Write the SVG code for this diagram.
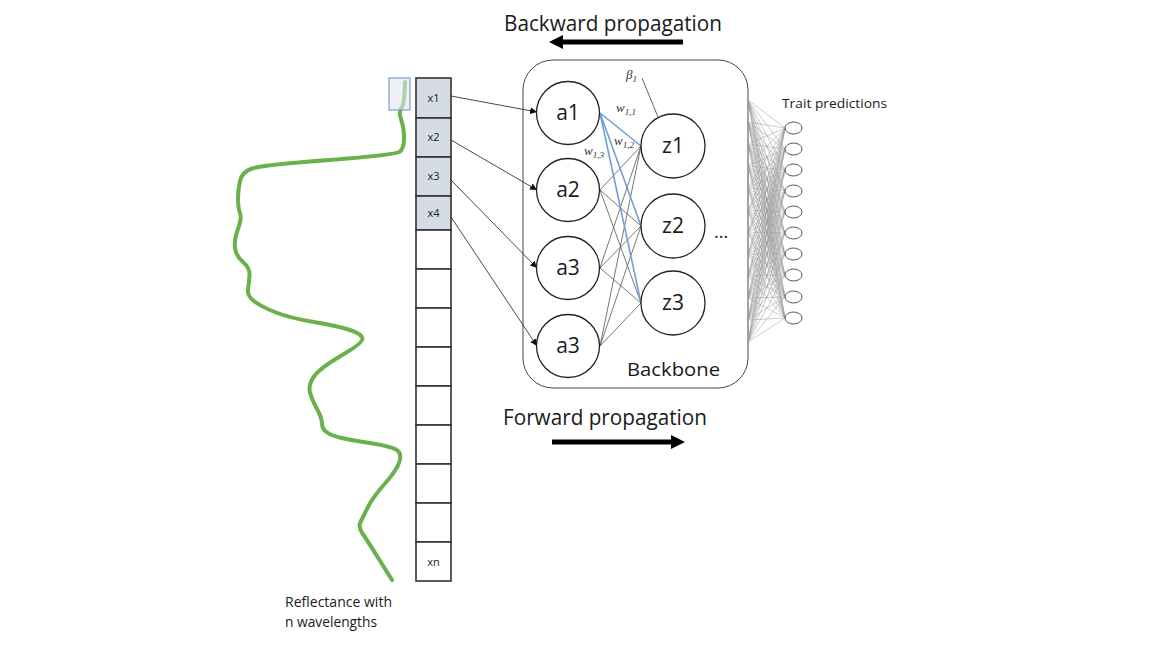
<svg xmlns="http://www.w3.org/2000/svg" width="1152" height="648" viewBox="0 0 1152 648">
<defs>
<style>
.lbl{font-family:"Open Sans","Liberation Sans",sans-serif;fill:#1a1a1a}
.node{fill:#fff;stroke:#222;stroke-width:1.3}
.cell{stroke:#333;stroke-width:1.6}
.in{fill:#d6dce4}
.emp{fill:#fff}
.w{font-family:"Liberation Serif","DejaVu Serif",serif;font-style:italic;font-size:13px;fill:#333}
.g{stroke:#555;stroke-width:0.8;fill:none}
.b{stroke:#6f9fd8;stroke-width:1.6;fill:none}
.mesh{stroke:#9a9a9a;stroke-width:0.5;fill:none}
.out{fill:#fff;stroke:#555;stroke-width:1}
</style>
<marker id="ah" viewBox="0 0 10 10" refX="10" refY="5" markerWidth="7" markerHeight="7" orient="auto" markerUnits="userSpaceOnUse">
<path d="M0,0 L10,5 L0,10 z" fill="#111"/>
</marker>
</defs>
<rect width="1152" height="648" fill="#fff"/>

<g id="titles">
<text class="lbl" x="504" y="31" font-size="22" textLength="218" lengthAdjust="spacingAndGlyphs">Backward propagation</text>
<line x1="683" y1="42" x2="560" y2="42" stroke="#000" stroke-width="5"/>
<polygon points="549,42 563,35 563,49" fill="#000"/>
<text class="lbl" x="503" y="425" font-size="22" textLength="204" lengthAdjust="spacingAndGlyphs">Forward propagation</text>
<line x1="552" y1="442" x2="674" y2="442" stroke="#000" stroke-width="5"/>
<polygon points="685,442 671,435 671,449" fill="#000"/>
</g>

<g id="spectrum">
<path d="M405,82 L404.5,93 Q404,104 401.5,108 Q399,112 400,115.5 Q401,119 402.5,124.5 Q404,130 404,139 Q404,148 400,151.5 Q396,155 329,160 Q262,165 252,168.5 Q242,172 240,181 Q238,190 238,199 Q238,208 240,213 Q242,218 238,229 Q234,240 235,248 Q236,256 243,262 Q250,268 249.5,275.5 Q249,283 248,289.5 Q247,296 254.5,301.5 Q262,307 276,312.5 Q290,318 314,322 Q338,326 350,330 Q362,334 362.5,338.5 Q363,343 341.5,355.5 Q320,368 314,376.5 Q308,385 310,392.5 Q312,400 317,409 Q322,418 322,424 Q322,430 329.5,434 Q337,438 363.5,442 Q390,446 396,449.5 Q402,453 399.5,461.5 Q397,470 385,483.5 Q373,497 368,507 Q363,517 360.5,522 Q358,527 362.5,533.5 Q367,540 379.5,560 L392,580" fill="none" stroke="#6ab04c" stroke-width="4" stroke-linecap="round" stroke-linejoin="round"/>
<rect x="389" y="78" width="21" height="32" fill="#e4e6ec" fill-opacity="0.6" stroke="#7fa6d4" stroke-width="1.3"/>
<text class="lbl" x="285" y="607" font-size="14" textLength="107" lengthAdjust="spacingAndGlyphs">Reflectance with</text>
<text class="lbl" x="285" y="627" font-size="14" textLength="92" lengthAdjust="spacingAndGlyphs">n wavelengths</text>
</g>

<g id="input">
<rect class="cell in" x="416" y="78" width="35" height="40"/>
<rect class="cell in" x="416" y="118" width="35" height="39"/>
<rect class="cell in" x="416" y="157" width="35" height="39"/>
<rect class="cell in" x="416" y="196" width="35" height="34"/>
<rect class="cell emp" x="416" y="230" width="35" height="39"/>
<rect class="cell emp" x="416" y="269" width="35" height="39"/>
<rect class="cell emp" x="416" y="308" width="35" height="39"/>
<rect class="cell emp" x="416" y="347" width="35" height="39"/>
<rect class="cell emp" x="416" y="386" width="35" height="39"/>
<rect class="cell emp" x="416" y="425" width="35" height="39"/>
<rect class="cell emp" x="416" y="464" width="35" height="39"/>
<rect class="cell emp" x="416" y="503" width="35" height="39"/>
<rect class="cell emp" x="416" y="542" width="35" height="39"/>
<g class="lbl" font-size="11" text-anchor="middle">
<text x="433.5" y="102">x1</text>
<text x="433.5" y="141">x2</text>
<text x="433.5" y="180">x3</text>
<text x="433.5" y="217">x4</text>
<text x="433.5" y="566">xn</text>
</g>
</g>

<g id="backbone">
<rect x="523" y="60" width="225" height="328" rx="30" ry="30" fill="#fff" stroke="#444" stroke-width="1"/>
<text class="lbl" x="627" y="376" font-size="19" textLength="93" lengthAdjust="spacingAndGlyphs">Backbone</text>
</g>

<g id="connectors">
<line x1="451" y1="96" x2="537" y2="112" stroke="#333" stroke-width="0.9" marker-end="url(#ah)"/>
<line x1="451" y1="140" x2="537" y2="190" stroke="#333" stroke-width="0.9" marker-end="url(#ah)"/>
<line x1="451" y1="180" x2="537" y2="268" stroke="#333" stroke-width="0.9" marker-end="url(#ah)"/>
<line x1="451" y1="217" x2="537" y2="346" stroke="#333" stroke-width="0.9" marker-end="url(#ah)"/>
<path class="g" d="M600,190 L641,146 M600,190 L641,226 M600,190 L641,303 M600,268 L641,146 M600,268 L641,226 M600,268 L641,303 M600,346 L641,146 M600,346 L641,226 M600,346 L641,303"/>
<path class="b" d="M600,113 L641,146 M600,113 L641,226 M600,113 L641,303"/>
<line x1="642" y1="78" x2="658" y2="117" stroke="#555" stroke-width="0.9"/>
<path class="mesh" d="M748,100 L785,128 M748,100 L785,149 M748,100 L785,170 M748,100 L785,191 M748,100 L785,212 M748,100 L785,233 M748,100 L785,254 M748,100 L785,275 M748,100 L785,297 M748,100 L785,318
M748,122 L785,128 M748,122 L785,149 M748,122 L785,170 M748,122 L785,191 M748,122 L785,212 M748,122 L785,233 M748,122 L785,254 M748,122 L785,275 M748,122 L785,297 M748,122 L785,318
M748,144 L785,128 M748,144 L785,149 M748,144 L785,170 M748,144 L785,191 M748,144 L785,212 M748,144 L785,233 M748,144 L785,254 M748,144 L785,275 M748,144 L785,297 M748,144 L785,318
M748,166 L785,128 M748,166 L785,149 M748,166 L785,170 M748,166 L785,191 M748,166 L785,212 M748,166 L785,233 M748,166 L785,254 M748,166 L785,275 M748,166 L785,297 M748,166 L785,318
M748,188 L785,128 M748,188 L785,149 M748,188 L785,170 M748,188 L785,191 M748,188 L785,212 M748,188 L785,233 M748,188 L785,254 M748,188 L785,275 M748,188 L785,297 M748,188 L785,318
M748,210 L785,128 M748,210 L785,149 M748,210 L785,170 M748,210 L785,191 M748,210 L785,212 M748,210 L785,233 M748,210 L785,254 M748,210 L785,275 M748,210 L785,297 M748,210 L785,318
M748,232 L785,128 M748,232 L785,149 M748,232 L785,170 M748,232 L785,191 M748,232 L785,212 M748,232 L785,233 M748,232 L785,254 M748,232 L785,275 M748,232 L785,297 M748,232 L785,318
M748,254 L785,128 M748,254 L785,149 M748,254 L785,170 M748,254 L785,191 M748,254 L785,212 M748,254 L785,233 M748,254 L785,254 M748,254 L785,275 M748,254 L785,297 M748,254 L785,318
M748,276 L785,128 M748,276 L785,149 M748,276 L785,170 M748,276 L785,191 M748,276 L785,212 M748,276 L785,233 M748,276 L785,254 M748,276 L785,275 M748,276 L785,297 M748,276 L785,318
M748,298 L785,128 M748,298 L785,149 M748,298 L785,170 M748,298 L785,191 M748,298 L785,212 M748,298 L785,233 M748,298 L785,254 M748,298 L785,275 M748,298 L785,297 M748,298 L785,318
M748,320 L785,128 M748,320 L785,149 M748,320 L785,170 M748,320 L785,191 M748,320 L785,212 M748,320 L785,233 M748,320 L785,254 M748,320 L785,275 M748,320 L785,297 M748,320 L785,318
M748,342 L785,128 M748,342 L785,149 M748,342 L785,170 M748,342 L785,191 M748,342 L785,212 M748,342 L785,233 M748,342 L785,254 M748,342 L785,275 M748,342 L785,297 M748,342 L785,318"/>
</g>

<g id="weights">
<text class="w" x="626" y="79">β<tspan font-size="9" dy="3">1</tspan></text>
<text class="w" x="616" y="112">w<tspan font-size="9" dy="3">1,1</tspan></text>
<text class="w" x="614" y="145">w<tspan font-size="9" dy="3">1,2</tspan></text>
<text class="w" x="584" y="155">w<tspan font-size="9" dy="3">1,3</tspan></text>
</g>

<g id="a1"><circle class="node" cx="568" cy="113" r="31.5"/><text class="lbl" x="568" y="120" font-size="21" text-anchor="middle">a1</text></g>
<g id="a2"><circle class="node" cx="568" cy="190" r="31.5"/><text class="lbl" x="568" y="197" font-size="21" text-anchor="middle">a2</text></g>
<g id="a3"><circle class="node" cx="568" cy="268" r="31.5"/><text class="lbl" x="568" y="275" font-size="21" text-anchor="middle">a3</text></g>
<g id="a4"><circle class="node" cx="568" cy="346" r="31.5"/><text class="lbl" x="568" y="353" font-size="21" text-anchor="middle">a3</text></g>
<g id="z1"><circle class="node" cx="673" cy="146" r="32"/><text class="lbl" x="673" y="153" font-size="21" text-anchor="middle">z1</text></g>
<g id="z2"><circle class="node" cx="673" cy="226" r="32"/><text class="lbl" x="673" y="233" font-size="21" text-anchor="middle">z2</text></g>
<g id="z3"><circle class="node" cx="673" cy="303" r="32"/><text class="lbl" x="673" y="310" font-size="21" text-anchor="middle">z3</text></g>
<g id="ellipsis"><text class="lbl" x="714" y="238" font-size="18">...</text></g>

<g id="outputs">
<ellipse class="out" cx="793.5" cy="128" rx="8.5" ry="6"/>
<ellipse class="out" cx="793.5" cy="149" rx="8.5" ry="6"/>
<ellipse class="out" cx="793.5" cy="170" rx="8.5" ry="6"/>
<ellipse class="out" cx="793.5" cy="191" rx="8.5" ry="6"/>
<ellipse class="out" cx="793.5" cy="212" rx="8.5" ry="6"/>
<ellipse class="out" cx="793.5" cy="233" rx="8.5" ry="6"/>
<ellipse class="out" cx="793.5" cy="254" rx="8.5" ry="6"/>
<ellipse class="out" cx="793.5" cy="275" rx="8.5" ry="6"/>
<ellipse class="out" cx="793.5" cy="297" rx="8.5" ry="6"/>
<ellipse class="out" cx="793.5" cy="318" rx="8.5" ry="6"/>
<text class="lbl" x="782" y="108" font-size="13" textLength="105" lengthAdjust="spacingAndGlyphs">Trait predictions</text>
</g>
</svg>
